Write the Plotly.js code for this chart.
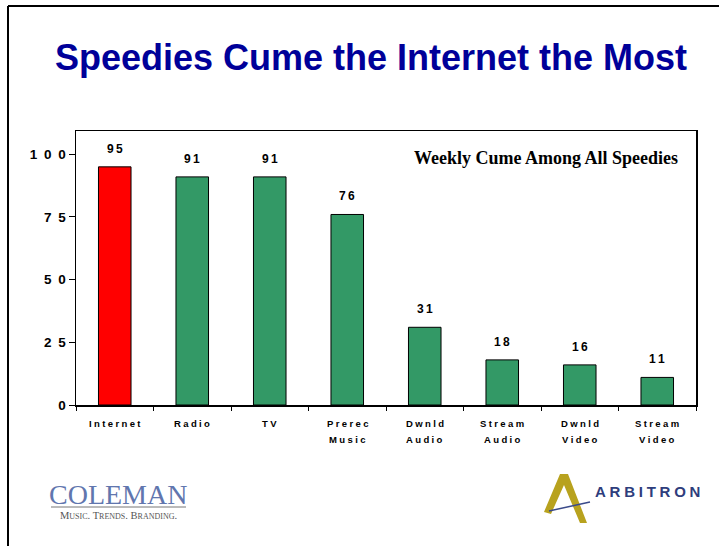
<!DOCTYPE html>
<html>
<head>
<meta charset="utf-8">
<script src="https://cdn.plot.ly/plotly-3.0.1.min.js"></script>
<style>
html,body{margin:0;padding:0;background:#fff;}
#chart{width:719px;height:546px;}
</style>
</head>
<body>
<div id="chart"></div>
<script>
// ---- data ----
const categories = ["Internet", "Radio", "TV", "Prerec Music", "Dwnld Audio", "Stream Audio", "Dwnld Video", "Stream Video"];
const values = [95, 91, 91, 76, 31, 18, 16, 11];
const barColors = ["#FF0000", "#339966", "#339966", "#339966", "#339966", "#339966", "#339966", "#339966"];
const yTickVals = [0, 25, 50, 75, 100];
const titleText = "Speedies Cume the Internet the Most";
const subtitleText = "Weekly Cume Among All Speedies";

// ---- helpers ----
function spaced(s, sp) { return s.split("").join(sp || "\u2009"); }

const W = 719, H = 546;
const M = {l: 76, r: 23, t: 131, b: 141};
const PW = W - M.l - M.r, PH = H - M.t - M.b;
function px(x) { return (x - M.l) / PW; }
function py(y) { return (H - M.b - y) / PH; }

const trace = {
  type: "bar",
  x: categories,
  y: values,
  width: 0.42,
  marker: {color: barColors, line: {color: "#000", width: 1}},
  hoverinfo: "x+y"
};

const boldSans = (size) => ({family: "Liberation Sans, Arial, sans-serif", size: size, color: "#000", weight: 700});

const valueAnnots = categories.map((c, i) => ({
  x: c, y: values[i], xref: "x", yref: "y",
  text: spaced(String(values[i]), "\u2009"),
  showarrow: false, yanchor: "bottom", yshift: 9,
  font: boldSans(12)
}));

// category labels (two lines with wide line gap, as in the original)
const catAnnots = [];
categories.forEach(c => {
  c.split(" ").forEach((word, k) => {
    catAnnots.push({
      x: c, xref: "x", y: 0, yref: "paper",
      text: spaced(word, "\u2005"), showarrow: false,
      yanchor: "middle", yshift: -(18 + 16 * k),
      font: boldSans(9.5)
    });
  });
});

const goldPath = `M ${px(544)} ${py(512)} L ${px(560)} ${py(474)} L ${px(568)} ${py(474)} L ${px(587)} ${py(523)} L ${px(580)} ${py(523)} L ${px(564)} ${py(485)} L ${px(551)} ${py(514)} Z`;

const layout = {
  width: W, height: H,
  margin: M,
  paper_bgcolor: "#fff", plot_bgcolor: "#fff",
  showlegend: false,
  title: {
    text: "<b>" + titleText + "</b>",
    x: 371 / W, xanchor: "center",
    y: 1 - 57 / H, yanchor: "middle",
    font: {family: "Liberation Sans, Arial, sans-serif", size: 36, color: "#000099"}
  },
  xaxis: {
    type: "category",
    showticklabels: false,
    tickson: "boundaries", ticks: "outside", ticklen: 4, tickcolor: "#000", tickwidth: 1,
    showline: true, linecolor: "#000", linewidth: 1.5, mirror: true,
    showgrid: false, zeroline: false,
    fixedrange: true
  },
  yaxis: {
    range: [0, 109.3],
    tickmode: "array", tickvals: yTickVals, ticktext: yTickVals.map(v => spaced(String(v), "\u2002")),
    ticks: "outside", ticklen: 6, tickcolor: "#000", tickwidth: 1,
    showline: true, linecolor: "#000", linewidth: 1.5, mirror: true,
    showgrid: false, zeroline: false,
    tickfont: boldSans(13.5),
    fixedrange: true
  },
  annotations: valueAnnots.concat(catAnnots, [
    {xref: "paper", yref: "paper", x: px(680), y: py(158), xanchor: "right", yanchor: "middle",
     text: "<b>" + subtitleText + "</b>", showarrow: false,
     font: {family: "Liberation Serif, Times New Roman, serif", size: 18, color: "#000"}},
    {xref: "paper", yref: "paper", x: px(118), y: py(494), xanchor: "center", yanchor: "middle",
     text: "COLEMAN", showarrow: false,
     font: {family: "Liberation Serif, Times New Roman, serif", size: 28, color: "#6176ae"}},
    {xref: "paper", yref: "paper", x: px(118), y: py(515), xanchor: "center", yanchor: "middle",
     text: "M<span style='font-size:8px'>USIC</span>. T<span style='font-size:8px'>RENDS</span>. B<span style='font-size:8px'>RANDING</span>.",
     showarrow: false,
     font: {family: "Liberation Serif, Times New Roman, serif", size: 10.5, color: "#555"}},
    {xref: "paper", yref: "paper", x: px(647), y: py(492), xanchor: "center", yanchor: "middle",
     text: "<b>" + spaced("ARBITRON", "\u2005") + "</b>", showarrow: false,
     font: {family: "Liberation Sans, Arial, sans-serif", size: 15, color: "#2e3d7c"}}
  ]),
  shapes: [
    // page border (left & top)
    {type: "line", xref: "paper", yref: "paper", x0: px(8), x1: px(8), y0: py(6), y1: py(546), line: {color: "#000", width: 2}},
    {type: "line", xref: "paper", yref: "paper", x0: px(8), x1: px(719), y0: py(6), y1: py(6), line: {color: "#000", width: 2}},
    // Coleman underline
    {type: "line", xref: "paper", yref: "paper", x0: px(51), x1: px(186), y0: py(507), y1: py(507), line: {color: "#777", width: 1}},
    // Arbitron logo
    {type: "path", xref: "paper", yref: "paper", path: goldPath, fillcolor: "#b8a21e", line: {width: 0}},
    {type: "line", xref: "paper", yref: "paper", x0: px(549), x1: px(590), y0: py(511), y1: py(502), line: {color: "#3a4a8a", width: 1.5}}
  ]
};

Plotly.newPlot("chart", [trace], layout, {displayModeBar: false, staticPlot: true});
</script>
</body>
</html>
